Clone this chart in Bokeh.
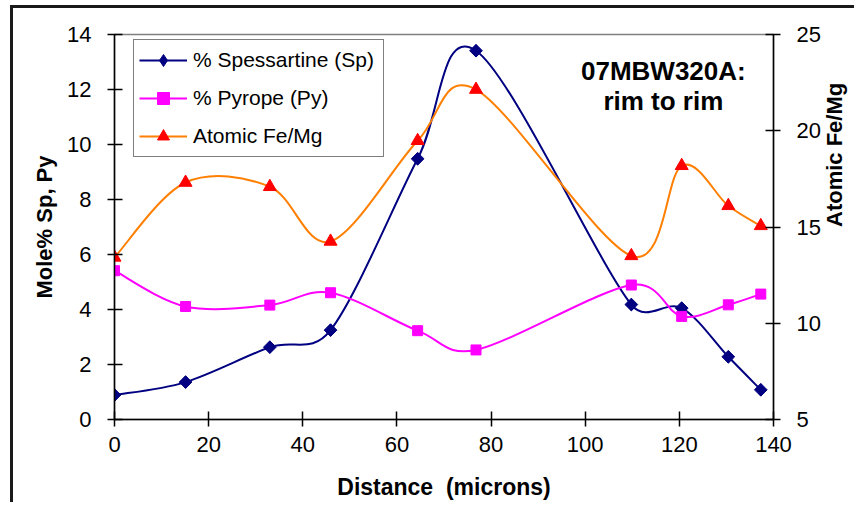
import math
from bokeh.plotting import figure
from bokeh.models import (Range1d, LinearAxis, FixedTicker, ColumnDataSource,
                          Legend, LegendItem, Label)
from bokeh.embed import file_html
from bokeh.resources import INLINE

# ---------------- data ----------------
distance = [0.0, 15.1, 33.0, 45.9, 64.4, 76.8, 109.8, 120.5, 130.4, 137.3]
spessartine = [0.89, 1.36, 2.63, 3.25, 9.48, 13.41, 4.18, 4.05, 2.28, 1.08]
pyrope = [5.41, 4.11, 4.16, 4.61, 3.23, 2.53, 4.89, 3.75, 4.17, 4.56]
fe_mg = [13.42, 17.31, 17.09, 14.25, 19.48, 22.14, 13.5, 18.18, 16.1, 15.06]

x_ticks = [0, 20, 40, 60, 80, 100, 120, 140]
left_ticks = [0, 2, 4, 6, 8, 10, 12, 14]
right_ticks = [5, 10, 15, 20, 25]

names = ["% Spessartine (Sp)", "% Pyrope (Py)", "Atomic Fe/Mg"]
title_lines = ["07MBW320A:", "rim to rim"]
x_label = "Distance\u00a0 (microns)"
y_label = "Mole% Sp, Py"
y2_label = "Atomic Fe/Mg"

FONT = "Liberation Sans"
FRAME_W, FRAME_H = 659, 385
X_RANGE, Y_RANGE, Y2_RANGE = (0, 140), (0, 14), (5, 25)


def smooth_segments(xs, ys, yr):
    """Bezier segments of a spreadsheet-style smoothed line through the points.
    Control arms are 1/6 of the neighbour chord, limited to half the segment
    length (measured in screen pixels)."""
    sx = FRAME_W / (X_RANGE[1] - X_RANGE[0])
    sy = FRAME_H / (yr[1] - yr[0])
    n = len(xs)
    d = dict(x0=[], y0=[], x1=[], y1=[], cx0=[], cy0=[], cx1=[], cy1=[])

    def dist(a, b):
        return math.hypot((xs[b] - xs[a]) * sx, (ys[b] - ys[a]) * sy)

    for i in range(n - 1):
        im = i - 1 if i > 0 else i
        ip = i + 2 if i + 2 < n else i + 1
        d12 = dist(i, i + 1)
        d02 = dist(im, i + 1)
        d13 = dist(i, ip)
        f1 = 1 / 6 if d02 / 6 < d12 / 2 else d12 / (2 * d02)
        f2 = 1 / 6 if d13 / 6 < d12 / 2 else d12 / (2 * d13)
        d["x0"].append(xs[i]); d["y0"].append(ys[i])
        d["x1"].append(xs[i + 1]); d["y1"].append(ys[i + 1])
        d["cx0"].append(xs[i] + (xs[i + 1] - xs[im]) * f1)
        d["cy0"].append(ys[i] + (ys[i + 1] - ys[im]) * f1)
        d["cx1"].append(xs[i + 1] - (xs[ip] - xs[i]) * f2)
        d["cy1"].append(ys[i + 1] - (ys[ip] - ys[i]) * f2)
    return ColumnDataSource(d)


p = figure(frame_width=FRAME_W, frame_height=FRAME_H,
           x_range=Range1d(*X_RANGE), y_range=Range1d(*Y_RANGE),
           output_backend="svg", toolbar_location=None,
           min_border_left=101, min_border_right=70,
           min_border_top=26, min_border_bottom=80,
           background_fill_color="white", border_fill_color="white")
p.styles = {"margin-left": "10px", "margin-top": "5px",
            "border-left": "3px solid #1a1a1a", "border-top": "3px solid #1a1a1a"}
p.extra_y_ranges = {"fm": Range1d(*Y2_RANGE)}
p.grid.visible = False
p.outline_line_color = "#808080"
p.outline_line_width = 1.5


def style_axis(ax, ticks):
    ax.ticker = FixedTicker(ticks=ticks)
    ax.minor_tick_line_color = None
    ax.major_tick_in = 8
    ax.major_tick_out = 7
    ax.major_tick_line_width = 1.5
    ax.major_tick_line_color = "black"
    ax.axis_line_width = 1.5
    ax.axis_line_color = "black"
    ax.major_label_text_font = FONT
    ax.major_label_text_font_size = "22px"
    ax.major_label_text_color = "black"
    ax.axis_label_text_font = FONT
    ax.axis_label_text_font_size = "22px"
    ax.axis_label_text_font_style = "bold"
    ax.axis_label_text_color = "black"


style_axis(p.xaxis[0], x_ticks)
p.xaxis[0].axis_label = x_label
p.xaxis[0].axis_label_text_font_size = "23px"
p.xaxis[0].major_label_standoff = 10
p.xaxis[0].axis_label_standoff = 19

style_axis(p.yaxis[0], left_ticks)
p.yaxis[0].axis_label = y_label
p.yaxis[0].major_label_standoff = 16
p.yaxis[0].axis_label_standoff = 7

raxis = LinearAxis(y_range_name="fm", axis_label=y2_label)
style_axis(raxis, right_ticks)
raxis.major_label_standoff = 16
raxis.axis_label_standoff = 11
raxis.axis_label_orientation = math.pi / 2
p.add_layout(raxis, "right")

SP_C, PY_C, FM_LINE_C, FM_MARK_C = "#000080", "#FF00FF", "#FF7F00", "#FF0000"

# Spessartine
sp_src = smooth_segments(distance, spessartine, Y_RANGE)
sp_line = p.bezier(x0="x0", y0="y0", x1="x1", y1="y1", cx0="cx0", cy0="cy0",
                   cx1="cx1", cy1="cy1", source=sp_src, line_color=SP_C, line_width=2)
# diamond used for the legend key (sits under the rotated squares below)
sp_key = p.scatter(distance, spessartine, marker="diamond", size=12,
                   fill_color=SP_C, line_color=SP_C)
sp_pts = p.scatter(distance, spessartine, marker="square", angle=math.pi / 4, size=9,
                   fill_color=SP_C, line_color=SP_C)

# Pyrope
py_src = smooth_segments(distance, pyrope, Y_RANGE)
py_line = p.bezier(x0="x0", y0="y0", x1="x1", y1="y1", cx0="cx0", cy0="cy0",
                   cx1="cx1", cy1="cy1", source=py_src, line_color=PY_C, line_width=2)
py_pts = p.scatter(distance, pyrope, marker="square", size=10,
                   fill_color=PY_C, line_color=PY_C)

# Fe/Mg
fm_src = smooth_segments(distance, fe_mg, Y2_RANGE)
fm_line = p.bezier(x0="x0", y0="y0", x1="x1", y1="y1", cx0="cx0", cy0="cy0",
                   cx1="cx1", cy1="cy1", source=fm_src, line_color=FM_LINE_C, line_width=2,
                   y_range_name="fm")
fm_pts = p.scatter(distance, fe_mg, marker="triangle", size=13,
                   fill_color=FM_MARK_C, line_color=FM_MARK_C, y_range_name="fm")

legend = Legend(items=[LegendItem(label=names[0], renderers=[sp_line, sp_key]),
                       LegendItem(label=names[1], renderers=[py_line, py_pts]),
                       LegendItem(label=names[2], renderers=[fm_line, fm_pts])],
                location=(19, 262), margin=0, padding=5, spacing=8,
                glyph_width=48, glyph_height=30, label_height=30, label_width=185,
                label_standoff=6,
                label_text_font=FONT, label_text_font_size="21px", label_text_color="black",
                border_line_color="black", border_line_width=1.5,
                background_fill_color="white", background_fill_alpha=1.0)
p.add_layout(legend)

p.add_layout(Label(x=116.6, y=12.68, text=title_lines[0], text_align="center",
                   text_baseline="alphabetic", text_font=FONT, text_font_size="26px",
                   text_font_style="bold", text_color="black"))
p.add_layout(Label(x=116.6, y=11.58, text=title_lines[1], text_align="center",
                   text_baseline="alphabetic", text_font=FONT, text_font_size="26px",
                   text_font_style="bold", text_color="black"))

open("out.html", "w").write(file_html(p, INLINE))
